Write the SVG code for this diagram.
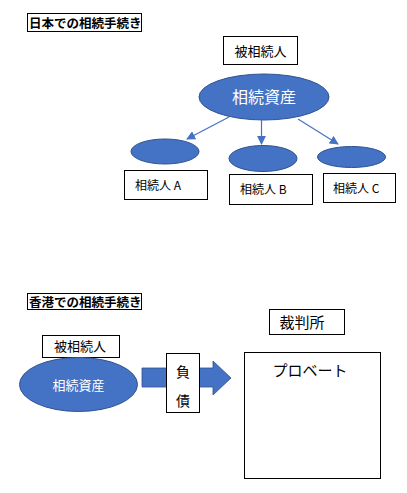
<svg xmlns="http://www.w3.org/2000/svg" width="407" height="493" viewBox="0 0 407 493">
<defs>
<style>
.box{fill:#fff;stroke:#000;stroke-width:1}
.ell{fill:#4472C4;stroke:#2F528F;stroke-width:1}
.t{font-family:"Noto Sans CJK JP","Liberation Sans",sans-serif;fill:#000}
.w{fill:#fff}
.con{stroke:#4472C4;stroke-width:1.2;fill:none;marker-end:url(#ah)}
</style>
<marker id="ah" viewBox="0 0 10 10" refX="9" refY="5" markerWidth="9" markerHeight="9" markerUnits="userSpaceOnUse" orient="auto">
<path d="M0,0 L10,5 L0,10 z" fill="#4472C4"/>
</marker>
</defs>
<rect width="407" height="493" fill="#fff"/>
<g id="title1"><rect class="box" x="27.5" y="13.5" width="114" height="18"/><text class="t" x="29" y="27.5" font-size="12.5" font-weight="bold">日本での相続手続き</text></g>
<g id="decedent1"><rect class="box" x="223.5" y="36.5" width="74" height="28"/><text class="t" x="260.5" y="55.5" font-size="13" text-anchor="middle">被相続人</text></g>
<g id="estate1"><ellipse class="ell" cx="264" cy="97" rx="65" ry="23"/><text class="t w" x="264" y="103" font-size="16" text-anchor="middle">相続資産</text></g>
<g id="heirA"><ellipse class="ell" cx="165" cy="151.5" rx="34" ry="12.5"/><rect class="box" x="124.5" y="170.5" width="83" height="29"/><text class="t" x="135" y="190" font-size="12">相続人 A</text></g>
<g id="heirB"><ellipse class="ell" cx="263" cy="158.5" rx="34" ry="13"/><rect class="box" x="229.5" y="174.5" width="83" height="30"/><text class="t" x="240" y="194" font-size="12">相続人 B</text></g>
<g id="heirC"><ellipse class="ell" cx="351.5" cy="157" rx="34" ry="10.5"/><rect class="box" x="323.5" y="173.5" width="72" height="29"/><text class="t" x="333" y="193" font-size="12">相続人 C</text></g>
<g id="connectors">
<line class="con" x1="229" y1="117" x2="187" y2="139"/>
<line class="con" x1="261.5" y1="120" x2="261.5" y2="144"/>
<line class="con" x1="298" y1="119" x2="338" y2="144"/>
</g>
<g id="title2"><rect class="box" x="27.5" y="293.5" width="114" height="16"/><text class="t" x="29" y="306.5" font-size="12.5" font-weight="bold">香港での相続手続き</text></g>
<g id="court"><rect class="box" x="269.5" y="309.5" width="75" height="25"/><text class="t" x="302" y="328" font-size="15" text-anchor="middle">裁判所</text></g>
<g id="decedent2"><rect class="box" x="42.5" y="335.5" width="77" height="22"/><text class="t" x="80" y="351" font-size="13" text-anchor="middle">被相続人</text></g>
<g id="estate2"><ellipse class="ell" cx="78.5" cy="384.5" rx="59" ry="27"/><text class="t w" x="78.5" y="389.5" font-size="13" text-anchor="middle">相続資産</text></g>
<g id="flow"><path d="M142,368 L213,368 L213,361 L231,378 L213,395 L213,387 L142,387 z" fill="#4472C4" stroke="#2F528F" stroke-width="0.8"/></g>
<g id="debt"><rect class="box" x="166.5" y="353.5" width="33" height="59"/><text class="t" x="183" y="377" font-size="14" text-anchor="middle">負</text><text class="t" x="183" y="406" font-size="14" text-anchor="middle">債</text></g>
<g id="probate"><rect class="box" x="244.5" y="352.5" width="136" height="126"/><text class="t" x="310" y="376" font-size="15" text-anchor="middle">プロベート</text></g>
</svg>
